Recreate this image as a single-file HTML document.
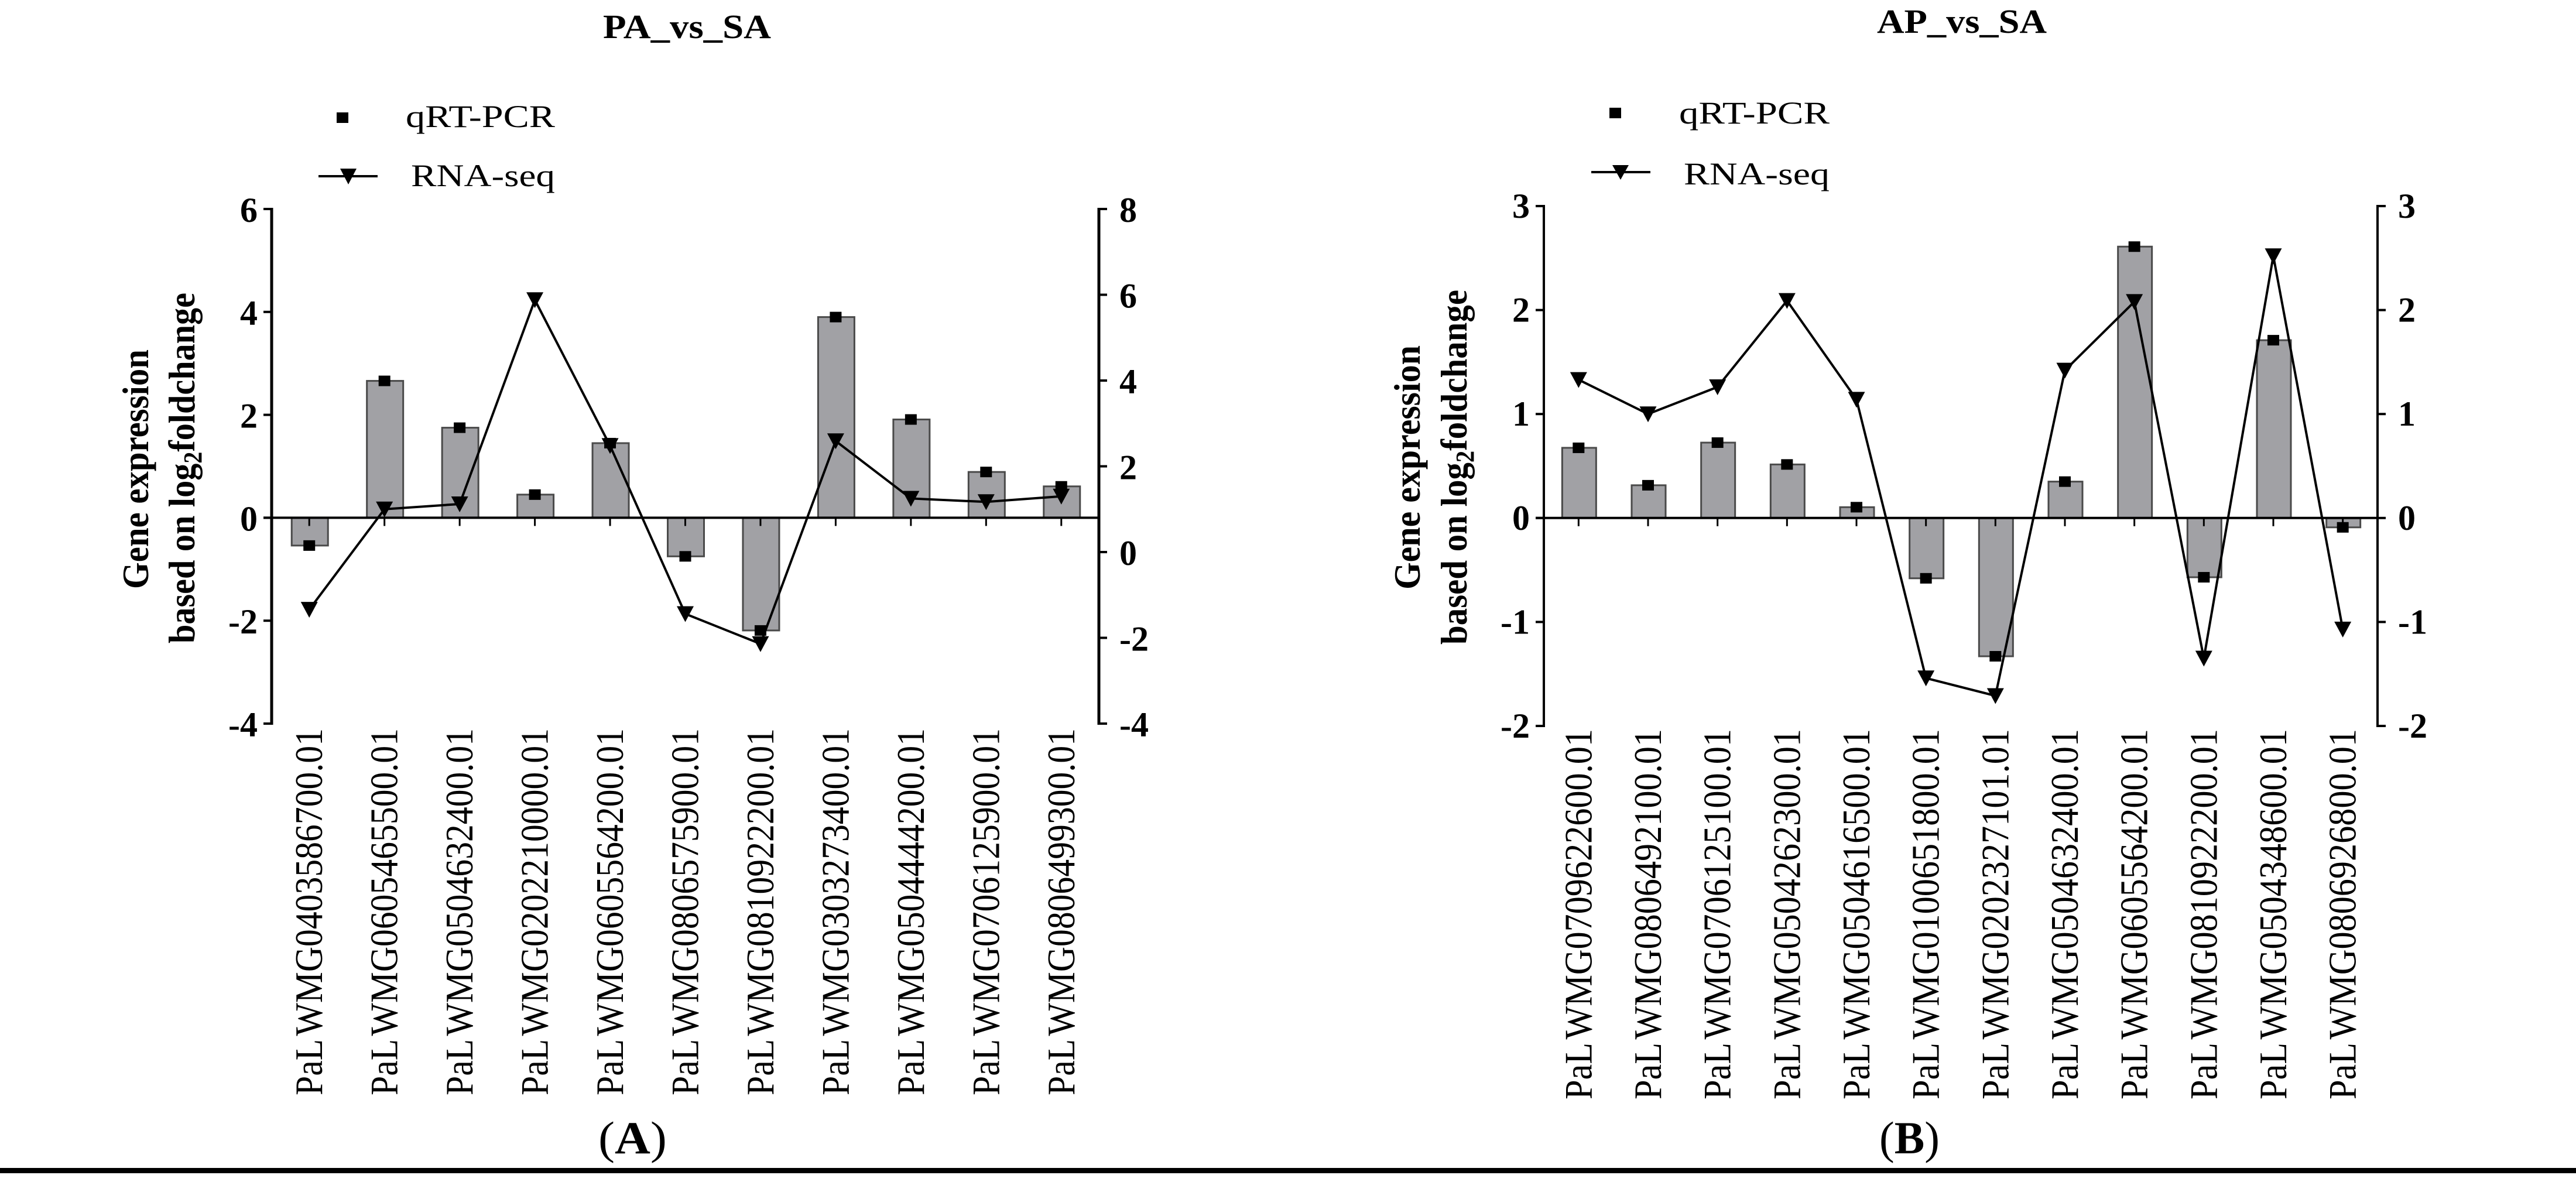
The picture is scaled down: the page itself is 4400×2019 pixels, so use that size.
<!DOCTYPE html>
<html lang="en">
<head>
<meta charset="utf-8">
<title>PA_vs_SA and AP_vs_SA gene expression</title>
<style>
html,body{margin:0;padding:0;background:#fff;width:4400px;height:2019px;overflow:hidden}
svg{display:block}
text{font-family:"Liberation Serif",serif;fill:#000}
</style>
</head>
<body>
<svg id="fig" xmlns="http://www.w3.org/2000/svg" width="4400" height="2019" viewBox="0 0 4400 2019">
  <rect x="0" y="0" width="4400" height="2019" fill="#fff"/>

  <text x="1030" y="65" font-size="58" font-weight="700" textLength="287" lengthAdjust="spacingAndGlyphs">PA_vs_SA</text>
  <text x="3206" y="56" font-size="58" font-weight="700" textLength="290" lengthAdjust="spacingAndGlyphs">AP_vs_SA</text>

  <g>
    <rect x="575" y="192" width="20" height="18" fill="#000"/>
    <text x="693" y="217" font-size="54" textLength="255" lengthAdjust="spacingAndGlyphs">qRT-PCR</text>
    <line x1="544" y1="301" x2="645" y2="301" stroke="#000" stroke-width="4"/>
    <polygon points="581,288 609,288 595,315" fill="#000"/>
    <text x="702" y="318" font-size="54" textLength="246" lengthAdjust="spacingAndGlyphs">RNA-seq</text>
  </g>
  <g>
    <rect x="2749" y="184" width="20" height="18" fill="#000"/>
    <text x="2868" y="211" font-size="54" textLength="257" lengthAdjust="spacingAndGlyphs">qRT-PCR</text>
    <line x1="2718" y1="294" x2="2819" y2="294" stroke="#000" stroke-width="4"/>
    <polygon points="2754,282 2782,282 2768,307" fill="#000"/>
    <text x="2876" y="315" font-size="54" textLength="249" lengthAdjust="spacingAndGlyphs">RNA-seq</text>
  </g>

  <g font-weight="700" font-size="64">
    <text transform="translate(253 1006) rotate(-90)" textLength="409" lengthAdjust="spacingAndGlyphs">Gene expression</text>
    <text transform="translate(332 1099) rotate(-90)" textLength="599" lengthAdjust="spacingAndGlyphs">based on log<tspan font-size="44" dy="12">2</tspan><tspan dy="-12">foldchange</tspan></text>
  </g>
  <g font-weight="700" font-size="64">
    <text transform="translate(2425 1007) rotate(-90)" textLength="417" lengthAdjust="spacingAndGlyphs">Gene expression</text>
    <text transform="translate(2505 1101) rotate(-90)" textLength="606" lengthAdjust="spacingAndGlyphs">based on log<tspan font-size="44" dy="12">2</tspan><tspan dy="-12">foldchange</tspan></text>
  </g>

  <g id="chart-a"></g>
  <g id="chart-b"></g>

  <text x="1022" y="1970" font-size="78" font-weight="700" textLength="117" lengthAdjust="spacingAndGlyphs"><tspan font-weight="400">(</tspan>A<tspan font-weight="400">)</tspan></text>
  <text x="3210" y="1970" font-size="78" font-weight="700" textLength="103" lengthAdjust="spacingAndGlyphs"><tspan font-weight="400">(</tspan>B<tspan font-weight="400">)</tspan></text>
  <rect x="0" y="1995" width="4400" height="9" fill="#000"/>
</svg>

<script>
const categoriesA = ["PaL WMG0403586700.01","PaL WMG0605465500.01","PaL WMG0504632400.01","PaL WMG0202210000.01","PaL WMG0605564200.01","PaL WMG0806575900.01","PaL WMG0810922200.01","PaL WMG0303273400.01","PaL WMG0504444200.01","PaL WMG0706125900.01","PaL WMG0806499300.01"];
const qpcrValuesA = [-0.54,2.66,1.75,0.45,1.45,-0.75,-2.19,3.90,1.91,0.89,0.61];
const rnaValuesA = [-1.34,1.00,1.12,5.88,2.48,-1.44,-2.14,2.59,1.25,1.17,1.30];
const leftTicksA = [6,4,2,0,-2,-4];
const rightTicksA = [8,6,4,2,0,-2,-4];

const categoriesB = ["PaL WMG0709622600.01","PaL WMG0806492100.01","PaL WMG0706125100.01","PaL WMG0504262300.01","PaL WMG0504616500.01","PaL WMG0100651800.01","PaL WMG0202327101.01","PaL WMG0504632400.01","PaL WMG0605564200.01","PaL WMG0810922200.01","PaL WMG0504348600.01","PaL WMG0806926800.01"];
const qpcrValuesB = [0.675,0.315,0.725,0.515,0.104,-0.58,-1.33,0.35,2.61,-0.57,1.71,-0.09];
const rnaValuesB = [1.33,1.00,1.26,2.09,1.14,-1.54,-1.71,1.42,2.08,-1.35,2.52,-1.07];
const leftTicksB = [3,2,1,0,-1,-2];
const rightTicksB = [3,2,1,0,-1,-2];

const SVG_NS = "http://www.w3.org/2000/svg";
function make(parent, tag, attrs, content) {
  const el = document.createElementNS(SVG_NS, tag);
  for (const k in attrs) el.setAttribute(k, attrs[k]);
  if (content !== undefined) el.textContent = content;
  parent.appendChild(el);
  return el;
}

function drawPanel(root, o) {
  const band = (o.right - o.left) / o.categories.length;
  const xPos = i => o.left + band * (i + 0.5);
  const yLeft = v => o.top + (o.leftMax - v) / (o.leftMax - o.leftMin) * (o.bottom - o.top);
  const yRight = v => o.top + (o.rightMax - v) / (o.rightMax - o.rightMin) * (o.bottom - o.top);
  const zero = yLeft(0);

  o.qpcr.forEach((v, i) => {
    const b = make(root, "rect", {
      x: xPos(i) - o.barWidth / 2 + 1,
      y: Math.min(zero, yLeft(v)),
      width: o.barWidth,
      height: Math.abs(yLeft(v) - zero),
      fill: "#a1a1a5",
      stroke: "#4a4a4a",
      "stroke-width": 3
    });
    
    
  });

  const leftAxis = make(root, "line", {x1: o.left, y1: o.top - 2, x2: o.left, y2: o.bottom + 2, stroke: "#000", "stroke-width": o.axisWidth});
  
  
  const rightAxis = make(root, "line", {x1: o.right, y1: o.top - 2, x2: o.right, y2: o.bottom + 2, stroke: "#000", "stroke-width": o.axisWidth});
  
  
  const zeroLine = make(root, "line", {x1: o.left - 14, y1: zero, x2: o.right, y2: zero, stroke: "#000", "stroke-width": 4});
  
  

  o.leftTicks.forEach(v => {
    const t = make(root, "line", {x1: o.left - 14, y1: yLeft(v), x2: o.left, y2: yLeft(v), stroke: "#000", "stroke-width": 4});
    
    
    const l = make(root, "text", {x: o.left - 24, y: yLeft(v) + o.tickLabelDrop, "font-size": 60, "font-weight": 700, "text-anchor": "end"}, String(v));
    
    
  });
  o.rightTicks.forEach(v => {
    const t = make(root, "line", {x1: o.right, y1: yRight(v), x2: o.right + 14, y2: yRight(v), stroke: "#000", "stroke-width": 4});
    
    
    const l = make(root, "text", {x: o.right + 35, y: yRight(v) + o.tickLabelDrop, "font-size": 60, "font-weight": 700}, String(v));
    
    
  });

  o.categories.forEach((c, i) => {
    const t = make(root, "line", {x1: xPos(i), y1: zero, x2: xPos(i), y2: zero + 14, stroke: "#000", "stroke-width": 3});
    
    
    const l = make(root, "text", {
      transform: "translate(" + (xPos(i) + o.labelOffset) + " " + o.labelBottom + ") rotate(-90)",
      "font-size": o.labelSize,
      "word-spacing": "-7px",
      textLength: o.labelLength,
      lengthAdjust: "spacingAndGlyphs"
    }, c);
    
    
  });

  const pts = o.rna.map((v, i) => xPos(i) + "," + yRight(v)).join(" ");
  const line = make(root, "polyline", {points: pts, fill: "none", stroke: "#000", "stroke-width": 4, "stroke-linejoin": "miter"});
  
  

  o.rna.forEach((v, i) => {
    const x = xPos(i), y = yRight(v);
    const m = make(root, "polygon", {points: (x - 14.5) + "," + (y - 13) + " " + (x + 14.5) + "," + (y - 13) + " " + x + "," + (y + 14), fill: "#000"});
    
    
  });
  o.qpcr.forEach((v, i) => {
    const m = make(root, "rect", {x: xPos(i) - 10, y: yLeft(v) - 9, width: 20, height: 18, fill: "#000"});
    
    
  });
}

drawPanel(document.getElementById("chart-a"), {
  categories: categoriesA, qpcr: qpcrValuesA, rna: rnaValuesA, leftTicks: leftTicksA, rightTicks: rightTicksA,
  left: 464, right: 1877, top: 357, bottom: 1236,
  leftMax: 6, leftMin: -4, rightMax: 8, rightMin: -4,
  barWidth: 62, axisWidth: 5, labelOffset: 22, labelBottom: 1871, labelSize: 67, labelLength: 627, tickLabelDrop: 22
});
drawPanel(document.getElementById("chart-b"), {
  categories: categoriesB, qpcr: qpcrValuesB, rna: rnaValuesB, leftTicks: leftTicksB, rightTicks: rightTicksB,
  left: 2637, right: 4061, top: 352, bottom: 1240,
  leftMax: 3, leftMin: -2, rightMax: 3, rightMin: -2,
  barWidth: 58, axisWidth: 4, labelOffset: 22, labelBottom: 1878, labelSize: 67, labelLength: 633, tickLabelDrop: 20
});
</script>
</body>
</html>
